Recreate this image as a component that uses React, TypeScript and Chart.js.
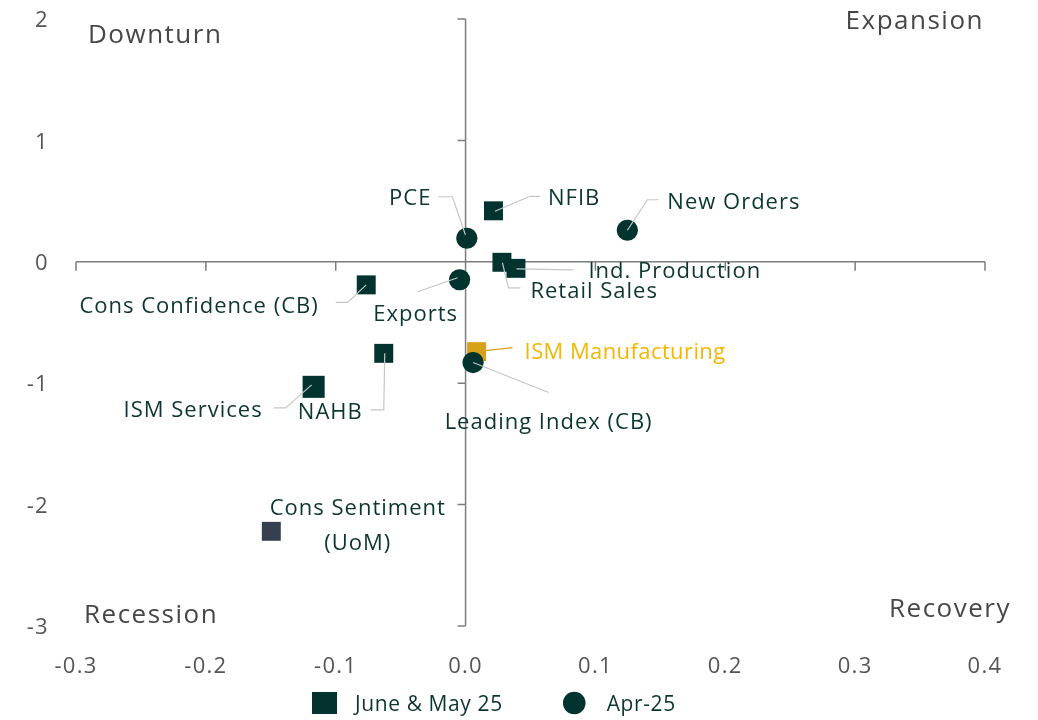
import React, { useEffect, useRef } from "react";
import { Chart, registerables } from "chart.js";

Chart.register(...registerables);

// ---------- data ----------
const SERIES_NAMES = ["June & May 25", "Apr-25"];

const X_TICKS = [-0.3, -0.2, -0.1, 0, 0.1, 0.2, 0.3, 0.4];
const Y_TICKS = [2, 1, 0, -1, -2, -3];

const recentLabels = [
  "NFIB",
  "Retail Sales",
  "Ind. Production",
  "Cons Confidence (CB)",
  "ISM Manufacturing",
  "NAHB",
  "ISM Services",
  "Cons Sentiment (UoM)",
];
const recentX = [0.0215, 0.028, 0.0388, -0.0765, 0.0085, -0.063, -0.117, -0.1496];
const recentY = [0.42, -0.004, -0.054, -0.19, -0.74, -0.754, -1.03, -2.22];

const aprLabels = ["PCE", "New Orders", "Exports", "Leading Index (CB)"];
const aprX = [0.001, 0.1246, -0.0046, 0.0058];
const aprY = [0.194, 0.26, -0.148, -0.83];

const QUADRANTS = ["Downturn", "Expansion", "Recession", "Recovery"];

// ---------- styles ----------
const FONT = '"Open Sans", "DejaVu Sans", sans-serif';
const DARK = "#02332f";
const TEXT = "#0b3632";
const GOLD = "#d6a21c";
const GOLD_TEXT = "#f4b600";
const SLATE = "#353f4f";
const AXIS = "#7d7d7d";
const TICK_TEXT = "#555555";
const QUAD_TEXT = "#474747";
const LEADER = "#c6c6c6";
const TEXT_SHIFT = 2;

const recentColors = recentLabels.map((l) =>
  l === "ISM Manufacturing" ? GOLD : l === "Cons Sentiment (UoM)" ? SLATE : DARK
);
const recentRadius = recentLabels.map((l) => (l === "ISM Services" ? 15.6 : 13.4));

type LabelLayout = {
  dx: number;
  dy: number;
  align: CanvasTextAlign;
  leader: [number, number][];
  lines?: string[];
  lineGap?: number;
  color?: string;
  leaderColor?: string;
  spacing?: string;
};

const LABEL_LAYOUT: Record<string, LabelLayout> = {
  PCE: { dx: -35.5, dy: -41.5, align: "right", leader: [[-28.5, -41.5], [-14.5, -41.5], [-1.5, -3.5]] },
  NFIB: { dx: 54.5, dy: -14.5, align: "left", leader: [[46.5, -14.5], [36.5, -14.5], [1.5, 0.5]] },
  "New Orders": { dx: 40, dy: -29.5, align: "left", leader: [[31, -30.5], [20, -30.5], [0, 0]] },
  "Ind. Production": { dx: 72.5, dy: 1.5, align: "left", leader: [[0.5, 0.5], [57.5, 1.5]] },
  "Retail Sales": { dx: 28.5, dy: 27.5, align: "left", leader: [[0.5, 0.5], [6.5, 25.5], [18.5, 25.5]] },
  Exports: { dx: -44, dy: 33, align: "center", leader: [[-42, 12], [-2, -2]] },
  "Cons Confidence (CB)": { dx: -47.5, dy: 19.5, align: "right", leader: [[-30.5, 17.5], [-18.5, 17.5], [0, 0]] },
  "ISM Manufacturing": {
    dx: 48, dy: -1, align: "left", leader: [[36, -4], [-1, 0]], color: GOLD_TEXT, leaderColor: GOLD, spacing: "0.4px",
  },
  "Leading Index (CB)": { dx: 75.5, dy: 58, align: "center", leader: [[0, 0], [75.5, 30]] },
  NAHB: { dx: -21, dy: 57.5, align: "right", leader: [[-13, 56.5], [0, 56.5], [1, 0]] },
  "ISM Services": { dx: -51, dy: 22, align: "right", leader: [[-40, 21], [-28, 21], [-2, -2]] },
  "Cons Sentiment (UoM)": {
    dx: 86.5, dy: -24.5, align: "center", leader: [], lines: ["Cons Sentiment", "(UoM)"], lineGap: 35,
  },
};

const setSpacing = (ctx: any, v: string) => {
  try {
    ctx.letterSpacing = v;
  } catch (e) {
    /* ignore */
  }
};

const crossAxesPlugin = {
  id: "crossAxes",
  beforeDraw(chart: any) {
    // letter spacing for the scale tick labels drawn by Chart.js
    setSpacing(chart.ctx, "1.3px");
  },
  beforeDatasetsDraw(chart: any) {
    const { ctx } = chart;
    const xs = chart.scales.x;
    const ys = chart.scales.y;
    const x0 = xs.getPixelForValue(0);
    const y0 = ys.getPixelForValue(0);
    ctx.save();
    ctx.strokeStyle = AXIS;
    ctx.lineWidth = 1.5;
    ctx.beginPath();
    ctx.moveTo(xs.left, y0);
    ctx.lineTo(xs.right, y0);
    X_TICKS.forEach((v) => {
      const px = xs.getPixelForValue(v);
      ctx.moveTo(px, y0);
      ctx.lineTo(px, y0 + 9);
    });
    ctx.moveTo(x0, ys.top);
    ctx.lineTo(x0, ys.bottom);
    Y_TICKS.forEach((v) => {
      const py = ys.getPixelForValue(v);
      ctx.moveTo(x0 - 8, py);
      ctx.lineTo(x0, py);
    });
    ctx.stroke();
    ctx.restore();
  },
};

const labelsPlugin = {
  id: "pointLabels",
  afterDatasetsDraw(chart: any) {
    const { ctx } = chart;
    ctx.save();
    chart.data.datasets.forEach((ds: any, di: number) => {
      const meta = chart.getDatasetMeta(di);
      ds.names.forEach((name: string, i: number) => {
        const el = meta.data[i];
        const lay = LABEL_LAYOUT[name];
        if (!el || !lay) return;
        const px = el.x;
        const py = el.y;
        if (lay.leader.length > 1) {
          ctx.strokeStyle = lay.leaderColor || LEADER;
          ctx.lineWidth = 1.2;
          ctx.beginPath();
          lay.leader.forEach(([lx, ly], k) => {
            if (k === 0) ctx.moveTo(px + lx, py + ly);
            else ctx.lineTo(px + lx, py + ly);
          });
          ctx.stroke();
        }
        ctx.fillStyle = lay.color || TEXT;
        ctx.font = `22px ${FONT}`;
        setSpacing(ctx, lay.spacing || "1px");
        ctx.textAlign = lay.align;
        ctx.textBaseline = "middle";
        const lines = lay.lines || [name];
        lines.forEach((t, k) => {
          ctx.fillText(t, px + lay.dx, py + lay.dy + TEXT_SHIFT + k * (lay.lineGap || 0));
        });
      });
    });
    ctx.restore();
  },
};

const decorPlugin = {
  id: "decor",
  afterDraw(chart: any) {
    const { ctx, chartArea } = chart;
    ctx.save();
    // quadrant labels
    ctx.font = `26px ${FONT}`;
    setSpacing(ctx, "1.5px");
    ctx.fillStyle = QUAD_TEXT;
    ctx.textBaseline = "middle";
    ctx.textAlign = "left";
    ctx.fillText(QUADRANTS[0], chartArea.left + 12, chartArea.top + 17);
    ctx.textAlign = "right";
    ctx.fillText(QUADRANTS[1], chartArea.right - 1, chartArea.top + 3);
    ctx.textAlign = "left";
    ctx.fillText(QUADRANTS[2], chartArea.left + 8, chartArea.bottom - 10);
    ctx.textAlign = "right";
    ctx.fillText(QUADRANTS[3], chartArea.right + 26, chartArea.bottom - 16);

    // legend
    const ly = 703;
    let x = chartArea.left + 236;
    ctx.font = `21px ${FONT}`;
    setSpacing(ctx, "0.6px");
    ctx.textAlign = "left";
    ctx.fillStyle = DARK;
    ctx.fillRect(x, ly - 11, 25, 22);
    x += 25 + 18;
    ctx.fillStyle = TEXT;
    ctx.fillText(SERIES_NAMES[0], x, ly + 2);
    x += ctx.measureText(SERIES_NAMES[0]).width + 60;
    ctx.fillStyle = DARK;
    ctx.beginPath();
    ctx.arc(x + 11.5, ly, 11.3, 0, Math.PI * 2);
    ctx.fill();
    x += 23 + 21;
    ctx.fillStyle = TEXT;
    ctx.fillText(SERIES_NAMES[1], x, ly + 2);
    ctx.restore();
    setSpacing(ctx, "0px");
  },
};

export default function App() {
  const ref = useRef<HTMLCanvasElement | null>(null);

  useEffect(() => {
    if (!ref.current) return;
    const chart = new Chart(ref.current, {
      type: "scatter",
      data: {
        datasets: [
          {
            label: SERIES_NAMES[0],
            names: recentLabels,
            data: recentX.map((x, i) => ({ x, y: recentY[i] })),
            pointStyle: "rect",
            pointRadius: recentRadius,
            pointHoverRadius: recentRadius,
            backgroundColor: recentColors,
            borderColor: recentColors,
            borderWidth: 0,
            order: 1,
          } as any,
          {
            label: SERIES_NAMES[1],
            names: aprLabels,
            data: aprX.map((x, i) => ({ x, y: aprY[i] })),
            pointStyle: "circle",
            pointRadius: 10.6,
            pointHoverRadius: 10.6,
            backgroundColor: DARK,
            borderColor: DARK,
            borderWidth: 0,
            order: 0,
          } as any,
        ],
      },
      options: {
        responsive: false,
        animation: false,
        events: [],
        layout: { padding: { top: 19, right: 53, bottom: 0, left: 0 } },
        plugins: {
          legend: { display: false },
          tooltip: { enabled: false },
        },
        scales: {
          x: {
            type: "linear",
            min: -0.3,
            max: 0.4,
            position: "bottom",
            grid: { display: false, drawTicks: false },
            border: { display: false },
            afterBuildTicks: (s: any) => {
              s.ticks = X_TICKS.map((v) => ({ value: v }));
            },
            afterFit: (s: any) => {
              s.height = 94;
              s.paddingLeft = 0;
              s.paddingRight = 0;
            },
            ticks: {
              autoSkip: false,
              maxRotation: 0,
              padding: 28,
              color: TICK_TEXT,
              font: { family: FONT, size: 22 },
              callback: (v: any) => Number(v).toFixed(1),
            },
          },
          y: {
            type: "linear",
            min: -3,
            max: 2,
            position: "left",
            grid: { display: false, drawTicks: false },
            border: { display: false },
            afterBuildTicks: (s: any) => {
              s.ticks = Y_TICKS.map((v) => ({ value: v }));
            },
            afterFit: (s: any) => {
              s.width = 76;
              s.paddingTop = 0;
              s.paddingBottom = 0;
            },
            ticks: {
              autoSkip: false,
              padding: 27,
              labelOffset: 2,
              color: TICK_TEXT,
              font: { family: FONT, size: 22 },
              callback: (v: any) => String(v),
            },
          },
        },
      } as any,
      plugins: [crossAxesPlugin, labelsPlugin, decorPlugin],
    });
    return () => chart.destroy();
  }, []);

  return (
    <div style={{ position: "absolute", left: 0, top: 0, width: 1038, height: 720, background: "#fff" }}>
      <canvas ref={ref} width={1038} height={720} />
    </div>
  );
}
